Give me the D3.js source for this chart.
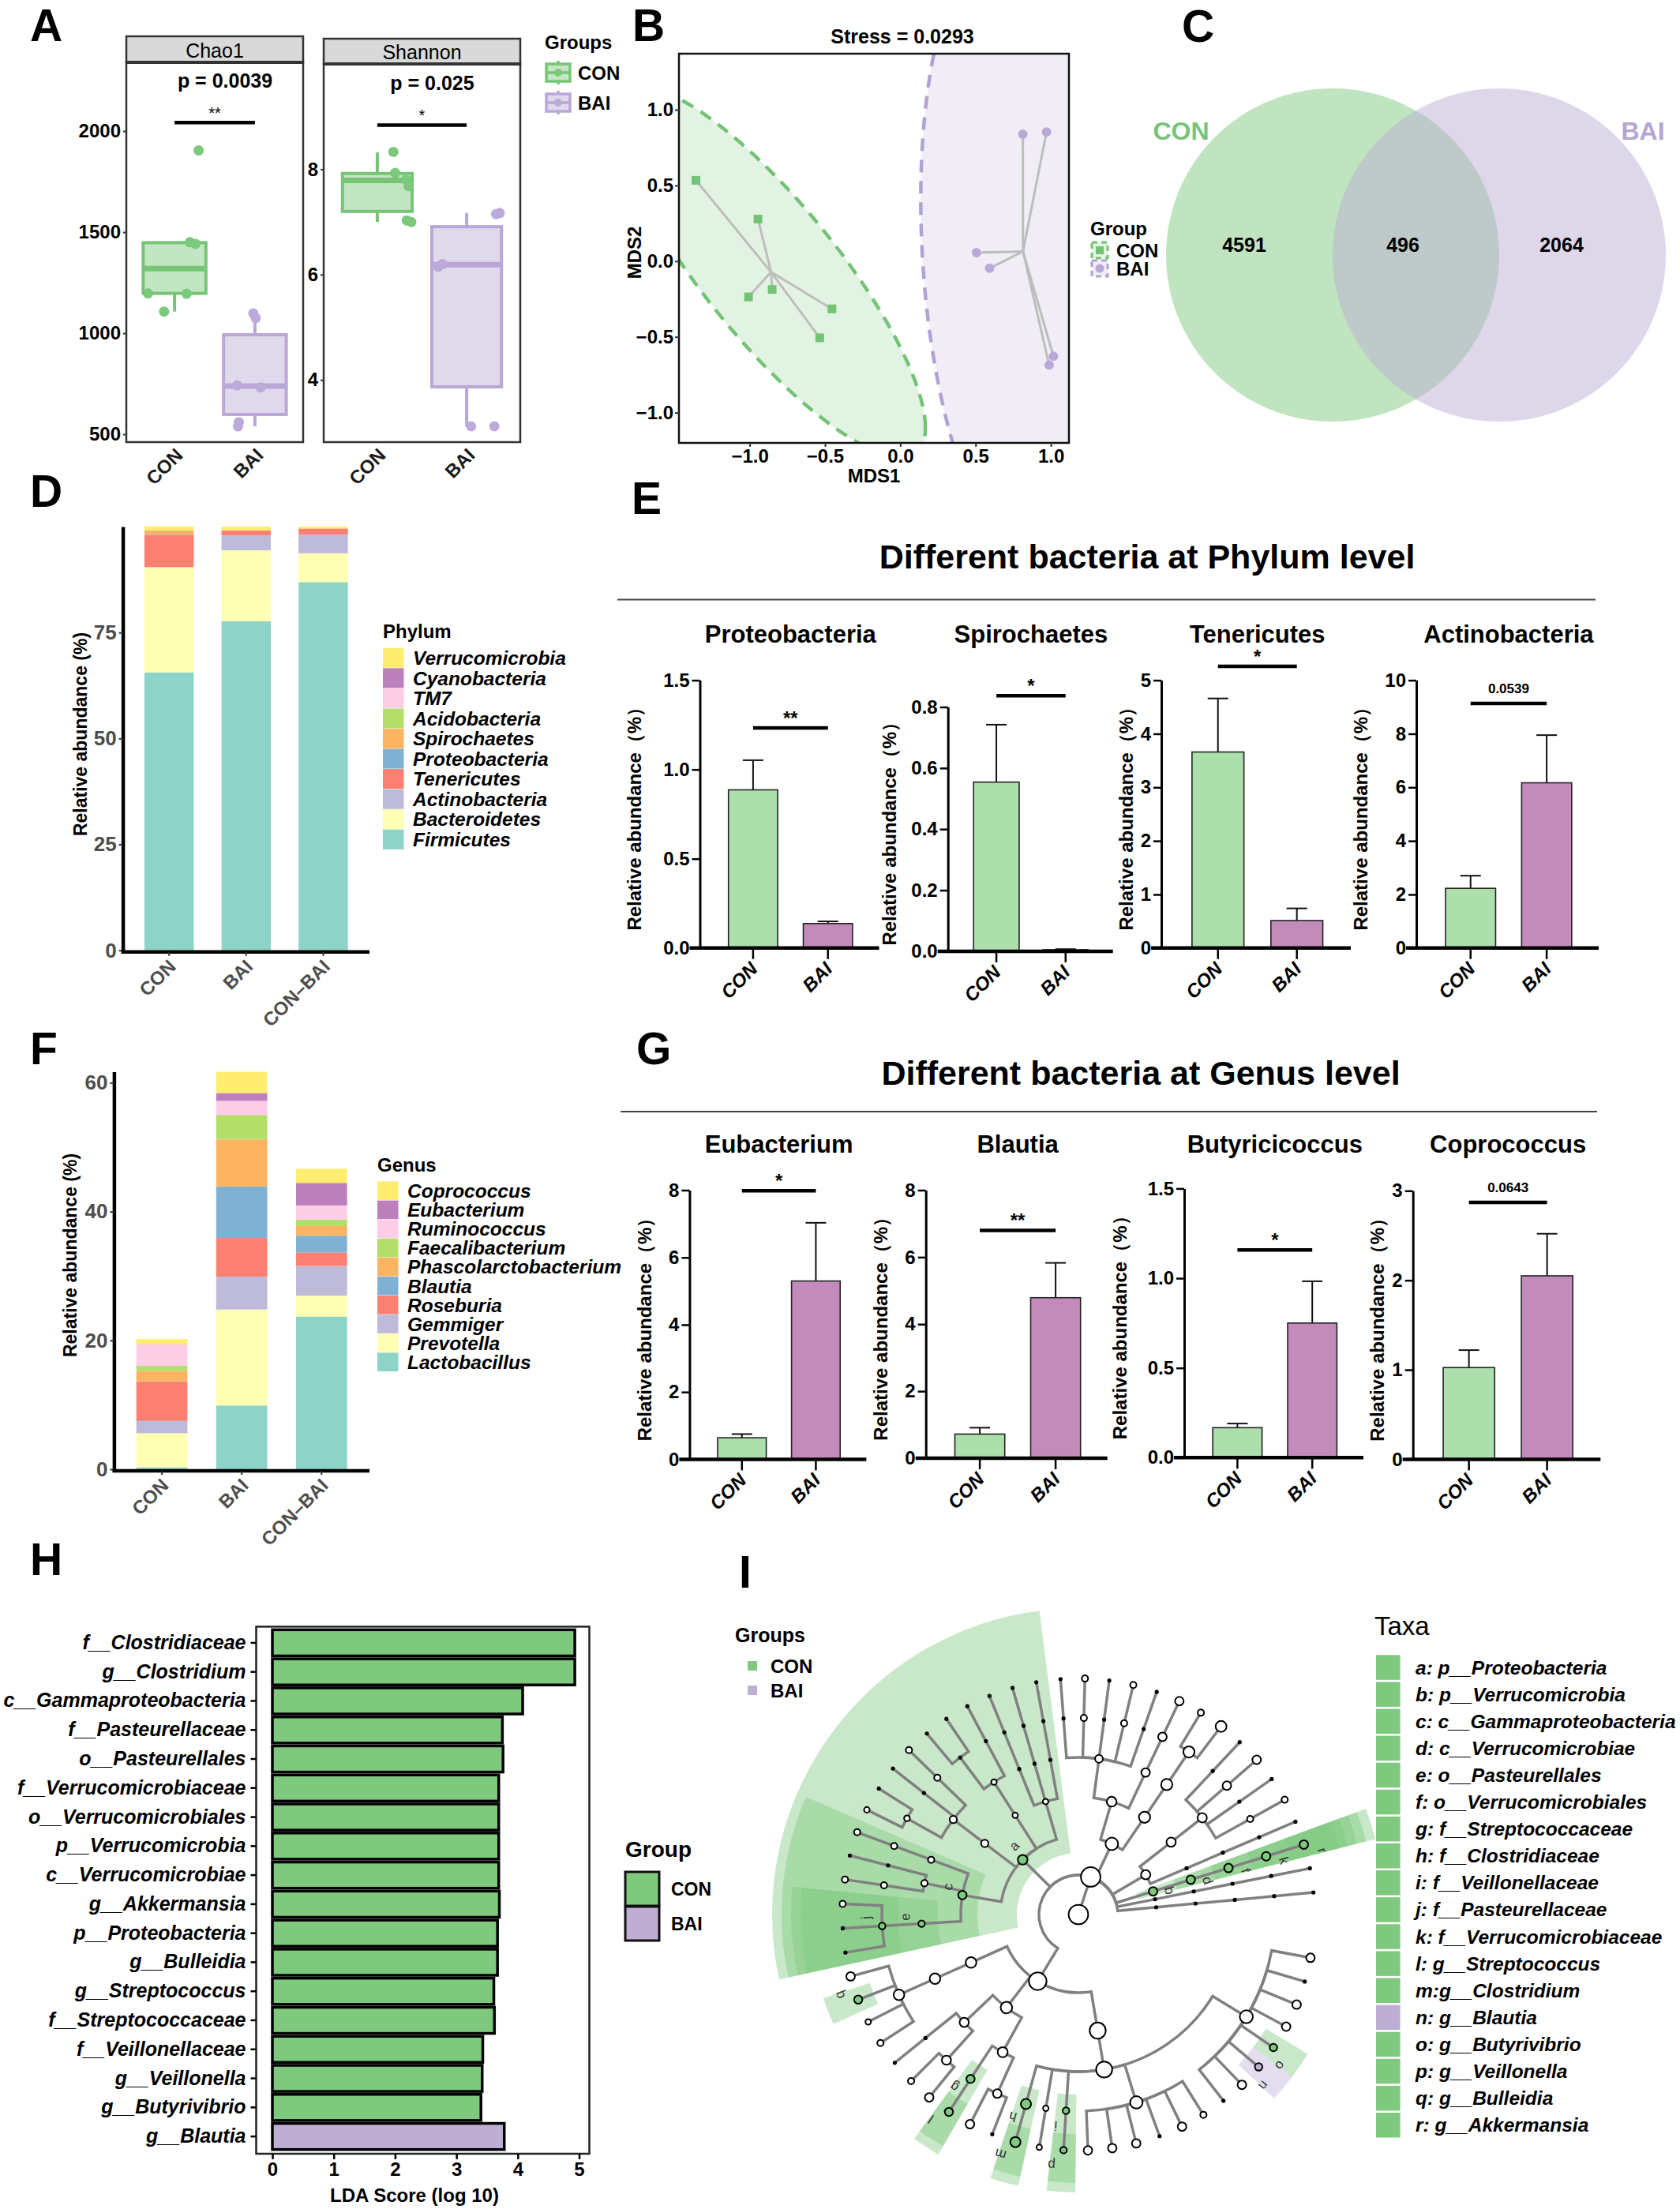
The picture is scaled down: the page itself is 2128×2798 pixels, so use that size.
<!DOCTYPE html>
<html>
<head>
<meta charset="utf-8">
<script src="https://cdn.jsdelivr.net/npm/d3@7"></script>
<style>
body { margin: 0; background: #fff; }
svg { display: block; font-family: "Liberation Sans", Arial, sans-serif; }
</style>
</head>
<body>
<svg id="fig" width="2128" height="2798"></svg>
<script>
// ---------------- data ----------------
const groups = ['CON', 'BAI']

// A: alpha diversity (points, jitter as fraction of step, box = [lo, q1, median, q3, hi])
const chao1CON = [1904, 1450, 1442, 1197, 1195, 1107]
const chao1BAI = [1098, 1075, 742, 732, 560, 539]
const chao1CONJit = [0.30, 0.19, 0.26, -0.33, 0.15, -0.13]
const chao1BAIJit = [-0.02, 0.01, -0.22, 0.07, -0.20, -0.21]
const chao1BoxCON = [1107, 1197, 1319, 1448, 1450]
const chao1BoxBAI = [539, 598, 738, 992, 1097]
const chao1Ticks = [500, 1000, 1500, 2000]
const shannonCON = [8.33, 7.93, 7.80, 7.68, 7.03, 7.00]
const shannonBAI = [7.15, 7.17, 6.20, 6.15, 3.12, 3.12]
const shannonCONJit = [0.18, 0.20, 0.32, 0.35, 0.33, 0.38]
const shannonBAIJit = [0.33, 0.37, -0.27, -0.32, 0.05, 0.31]
const shannonBoxCON = [7.00, 7.20, 7.79, 7.92, 8.32]
const shannonBoxBAI = [3.12, 3.87, 6.19, 6.91, 7.17]
const shannonTicks = [4, 6, 8]

// B: NMDS
const nmdsCON = [[-1.357, 0.534], [-0.945, 0.278], [-1.008, -0.236], [-0.851, -0.187], [-0.454, -0.315], [-0.535, -0.506]]
const nmdsBAI = [[0.814, 0.838], [0.971, 0.853], [0.506, 0.056], [0.593, -0.047], [1.017, -0.628], [0.988, -0.685]]
const nmdsTicks = [-1.0, -0.5, 0.0, 0.5, 1.0]

// C: Venn
const vennCounts = [4591, 496, 2064]

// D: phylum composition (%)
const stackGroups = ['CON', 'BAI', 'CON–BAI']
const phyla = ['Firmicutes', 'Bacteroidetes', 'Actinobacteria', 'Tenericutes', 'Proteobacteria', 'Spirochaetes', 'Acidobacteria', 'TM7', 'Cyanobacteria', 'Verrucomicrobia']
const phylumCONpct = [65.6, 24.8, 0.05, 7.5, 0.15, 1.0, 0.02, 0.02, 0.02, 0.9]
const phylumBAIpct = [77.7, 16.7, 3.5, 1.15, 0.02, 0.02, 0.0, 0.0, 0.0, 0.9]
const phylumMixPct = [86.9, 6.8, 4.4, 1.45, 0.0, 0.0, 0.0, 0.0, 0.0, 0.45]

// E: phylum level differences
const diffPhyla = ['Proteobacteria', 'Spirochaetes', 'Tenericutes', 'Actinobacteria']
const diffPhylaCON = [0.886, 0.554, 3.66, 2.23]
const diffPhylaCONerr = [1.052, 0.742, 4.66, 2.70]
const diffPhylaBAI = [0.137, 0.005, 0.513, 6.17]
const diffPhylaBAIerr = [0.149, 0.007, 0.74, 7.95]
const diffPhylaMax = [1.5, 0.8, 5, 10]
const diffPhylaStep = [0.5, 0.2, 1, 2]
const diffPhylaSig = ['**', '*', '*', '0.0539']
const diffPhylaSigY = [1.233, 0.837, 5.26, 9.13]

// F: genus composition (%)
const genera = ['Lactobacillus', 'Prevotella', 'Gemmiger', 'Roseburia', 'Blautia', 'Phascolarctobacterium', 'Faecalibacterium', 'Ruminococcus', 'Eubacterium', 'Coprococcus']
const genusCONpct = [0.3, 5.3, 1.9, 6.1, 0.05, 1.6, 0.8, 3.3, 0.05, 0.8]
const genusBAIpct = [9.9, 14.9, 5.1, 6.0, 8.0, 7.3, 3.8, 2.2, 1.2, 3.3]
const genusMixPct = [23.7, 3.25, 4.6, 2.1, 2.6, 1.5, 1.0, 2.2, 3.5, 2.2]

// G: genus level differences
const diffGenera = ['Eubacterium', 'Blautia', 'Butyricicoccus', 'Coprococcus']
const diffGeneraCON = [0.64, 0.72, 0.167, 1.025]
const diffGeneraCONerr = [0.75, 0.91, 0.19, 1.22]
const diffGeneraBAI = [5.30, 4.79, 0.75, 2.05]
const diffGeneraBAIerr = [7.03, 5.83, 0.983, 2.52]
const diffGeneraMax = [8, 8, 1.5, 3]
const diffGeneraStep = [2, 2, 0.5, 1]
const diffGeneraSig = ['*', '**', '*', '0.0643']
const diffGeneraSigY = [7.98, 6.80, 1.157, 2.87]

// H: LEfSe LDA
const ldaTaxa = ['f__Clostridiaceae', 'g__Clostridium', 'c__Gammaproteobacteria', 'f__Pasteurellaceae', 'o__Pasteurellales', 'f__Verrucomicrobiaceae', 'o__Verrucomicrobiales', 'p__Verrucomicrobia', 'c__Verrucomicrobiae', 'g__Akkermansia', 'p__Proteobacteria', 'g__Bulleidia', 'g__Streptococcus', 'f__Streptococcaceae', 'f__Veillonellaceae', 'g__Veillonella', 'g__Butyrivibrio', 'g__Blautia']
const ldaScores = [4.93, 4.93, 4.08, 3.75, 3.76, 3.69, 3.69, 3.69, 3.69, 3.70, 3.67, 3.67, 3.61, 3.62, 3.43, 3.42, 3.40, 3.78]
const ldaGroup = ['CON', 'CON', 'CON', 'CON', 'CON', 'CON', 'CON', 'CON', 'CON', 'CON', 'CON', 'CON', 'CON', 'CON', 'CON', 'CON', 'CON', 'BAI']

// I: cladogram leaves (clockwise), leaf relative size, enriched taxa
const cladeLeaves = [
  'Firmicutes|Clostridia|Clostridiales|Lachnospiraceae|Dorea',
  'Firmicutes|Clostridia|Clostridiales|Lachnospiraceae|Lachnospira',
  'Firmicutes|Clostridia|Clostridiales|Lachnospiraceae|Roseburia',
  'Firmicutes|Clostridia|Clostridiales|Lachnospiraceae|Coprococcus',
  'Firmicutes|Clostridia|Clostridiales|Lachnospiraceae|Butyrivibrio',
  'Firmicutes|Clostridia|Clostridiales|Lachnospiraceae|Blautia',
  'Firmicutes|Clostridia|Clostridiales|Lachnospiraceae|[Ruminococcus]',
  'Firmicutes|Clostridia|Clostridiales|Lachnospiraceae|Anaerostipes',
  'Firmicutes|Clostridia|Clostridiales|Ruminococcaceae|Anaerotruncus',
  'Firmicutes|Clostridia|Clostridiales|Ruminococcaceae|Butyricicoccus',
  'Firmicutes|Clostridia|Clostridiales|Ruminococcaceae|Anaerofilum',
  'Firmicutes|Clostridia|Clostridiales|Ruminococcaceae|Oscillospira',
  'Firmicutes|Clostridia|Clostridiales|Ruminococcaceae|Ruminococcus',
  'Firmicutes|Clostridia|Clostridiales|Ruminococcaceae|Faecalibacterium',
  'Firmicutes|Clostridia|Clostridiales|Veillonellaceae|Veillonella',
  'Firmicutes|Clostridia|Clostridiales|Peptococcaceae|rc4-4',
  'Firmicutes|Clostridia|Clostridiales|Clostridiaceae|Clostridium',
  'Firmicutes|Bacilli|Lactobacillales|Lactobacillaceae|Pediococcus',
  'Firmicutes|Bacilli|Lactobacillales|Lactobacillaceae|Lactobacillus',
  'Firmicutes|Bacilli|Lactobacillales|Streptococcaceae|Streptococcus',
  'Firmicutes|Bacilli|Bacillales|Staphylococcaceae|Staphylococcus',
  'Firmicutes|Bacilli|Bacillales|Staphylococcaceae|Jeotgalicoccus',
  'Firmicutes|Bacilli|Bacillales|Planococcaceae|Sporosarcina',
  'Firmicutes|Erysipelotrichi|Erysipelotrichales|Erysipelotrichaceae|Allobaculum',
  'Firmicutes|Erysipelotrichi|Erysipelotrichales|Erysipelotrichaceae|Coprobacillus',
  'Firmicutes|Erysipelotrichi|Erysipelotrichales|Erysipelotrichaceae|Bulleidia',
  'Firmicutes|Erysipelotrichi|Erysipelotrichales|Erysipelotrichaceae|Turicibacter',
  'Proteobacteria|Gammaproteobacteria|Pasteurellales|Pasteurellaceae|Haemophilus',
  'Proteobacteria|Gammaproteobacteria|Pasteurellales|Pasteurellaceae|Actinobacillus',
  'Proteobacteria|Gammaproteobacteria|Pasteurellales|Pasteurellaceae|Aggregatibacter',
  'Proteobacteria|Gammaproteobacteria|Pseudomonadales|Moraxellaceae|Acinetobacter',
  'Proteobacteria|Gammaproteobacteria|Pseudomonadales|Pseudomonadaceae|Pseudomonas',
  'Proteobacteria|Gammaproteobacteria|Enterobacteriales|Enterobacteriaceae|Proteus',
  'Proteobacteria|Betaproteobacteria|Burkholderiales|Alcaligenaceae|Sutterella',
  'Proteobacteria|Betaproteobacteria|Burkholderiales|Alcaligenaceae|Parasutterella',
  'Proteobacteria|Betaproteobacteria|Burkholderiales|Comamonadaceae|Comamonas',
  'Proteobacteria|Betaproteobacteria|Burkholderiales|Oxalobacteraceae|Oxalobacter',
  'Proteobacteria|Deltaproteobacteria|Desulfovibrionales|Desulfovibrionaceae|Desulfovibrio',
  'Proteobacteria|Deltaproteobacteria|Desulfovibrionales|Desulfovibrionaceae|Bilophila',
  'Proteobacteria|Deltaproteobacteria|Desulfovibrionales|Desulfohalobiaceae|Desulfonatronovibrio',
  'Proteobacteria|Alphaproteobacteria|Rhizobiales|Bradyrhizobiaceae|Bradyrhizobium',
  'Proteobacteria|Alphaproteobacteria|Sphingomonadales|Sphingomonadaceae|Sphingomonas',
  'Proteobacteria|Alphaproteobacteria|Rhodospirillales|Rhodospirillaceae|Azospirillum',
  'Bacteroidetes|Bacteroidia|Bacteroidales|Bacteroidaceae|Bacteroides',
  'Bacteroidetes|Bacteroidia|Bacteroidales|Porphyromonadaceae|Parabacteroides',
  'Bacteroidetes|Bacteroidia|Bacteroidales|Rikenellaceae|Rikenella',
  'Bacteroidetes|Bacteroidia|Bacteroidales|Odoribacteraceae|Odoribacter',
  'Bacteroidetes|Bacteroidia|Bacteroidales|Paraprevotellaceae|Paraprevotella',
  'Bacteroidetes|Bacteroidia|Flavobacteriales|Weeksellaceae|Wautersiella',
  'Bacteroidetes|Sphingobacteriia|Sphingobacteriales|Sphingobacteriaceae|Sphingobacterium',
  'Bacteroidetes|Sphingobacteriia|Sphingobacteriales|Sphingobacteriaceae|Pedobacter',
  'Actinobacteria|Actinobacteria|Actinomycetales|Corynebacteriaceae|Corynebacterium',
  'Actinobacteria|Actinobacteria|Actinomycetales|Bifidobacteriaceae|Bifidobacterium',
  'Actinobacteria|Actinobacteria|Actinomycetales|Micrococcaceae|Rothia',
  'Actinobacteria|Actinobacteria|Actinomycetales|Propionibacteriaceae|Propionibacterium',
  'Actinobacteria|Coriobacteriia|Coriobacteriales|Coriobacteriaceae|Adlercreutzia',
  'Verrucomicrobia|Verrucomicrobiae|Verrucomicrobiales|Verrucomicrobiaceae|Akkermansia',
  'Cyanobacteria|4C0d-2|YS2|YS2_f|YS2_g',
  'TM7|TM7-3|CW040|F16|F16_g'
]
const cladeLeafSize = [3.5, 0.1, 3.5, 3.5, 2, 2, 3.5, 0.1, 1, 3.5, 0.1, 3.5, 3.5, 3.5, 1.2, 0.5, 7,
  0.1, 3.5, 3, 3.5, 1, 0.1, 1, 0.6, 3, 3.5,
  0.1, 0.1, 1, 1, 0.1, 1, 0.6, 0.1, 0.1, 1, 0.12, 0.12, 0.1, 0.1, 0.1, 0.1,
  0.1, 1, 0.1, 1, 0.1, 3.5, 1, 9,
  0.1, 3.5, 0.1, 1, 0.1,
  3.5, 0.1, 0.1]
const taxaLabels = ['a: p__Proteobacteria', 'b: p__Verrucomicrobia', 'c: c__Gammaproteobacteria', 'd: c__Verrucomicrobiae', 'e: o__Pasteurellales', 'f: o__Verrucomicrobiales', 'g: f__Streptococcaceae', 'h: f__Clostridiaceae', 'i: f__Veillonellaceae', 'j: f__Pasteurellaceae', 'k: f__Verrucomicrobiaceae', 'l: g__Streptococcus', 'm:g__Clostridium', 'n: g__Blautia', 'o: g__Butyrivibrio', 'p: g__Veillonella', 'q: g__Bulleidia', 'r: g__Akkermansia']
const taxaGroup = ['CON', 'CON', 'CON', 'CON', 'CON', 'CON', 'CON', 'CON', 'CON', 'CON', 'CON', 'CON', 'CON', 'BAI', 'CON', 'CON', 'CON', 'CON']

// ---------------- styles ----------------
const FONT = '"Liberation Sans", Arial, sans-serif'
const setColors = ['#8dd3c7', '#ffffb3', '#bebada', '#fb8072', '#80b1d3', '#fdb462', '#b3de69', '#fccde5', '#bc80bd', '#ffed6f']
const grpFill = { CON: '#7fc97f', BAI: '#beaed4' }
const boxStyle = {
  CON: { fill: '#c3e6c2', line: '#77c477', point: '#7bc97c' },
  BAI: { fill: '#e0d9ec', line: '#b8a7d7', point: '#bbaada' }
}
const barFill = ['#acdfac', '#c38bb9']

const svg = d3.select('#fig')

function txt(g, x, y, s, o = {}) {
  const t = g.append('text').attr('x', x).attr('y', y).text(s)
    .attr('font-family', FONT)
    .attr('font-size', o.size || 24)
    .attr('font-weight', o.weight || 'bold')
    .attr('text-anchor', o.anchor || 'start')
    .attr('fill', o.fill || '#000')
  if (o.italic) t.attr('font-style', 'italic')
  if (o.baseline) t.attr('dominant-baseline', o.baseline)
  if (o.rotate !== undefined) t.attr('transform', `rotate(${o.rotate},${x},${y})`)
  return t
}

function styleAxis(ax, o) {
  ax.selectAll('text')
    .attr('font-family', FONT).attr('font-size', o.size).attr('font-weight', 'bold')
    .attr('fill', o.fill || '#000')
  if (o.italic) ax.selectAll('text').attr('font-style', 'italic')
  ax.selectAll('.tick line').attr('stroke', o.stroke || '#000').attr('stroke-width', o.tw || 2)
  ax.select('.domain').attr('stroke', o.stroke || '#000').attr('stroke-width', o.dw || 2)
}

// panel letters
const letters = [['A', 38, 52], ['B', 801, 52], ['C', 1497, 53], ['D', 38, 642], ['E', 800, 651],
  ['F', 38, 1348], ['G', 806, 1348], ['H', 38, 1995], ['I', 936, 2011]]
letters.forEach(([l, x, y]) => txt(svg, x, y, l, { size: 57 }))

// ---------------- A ----------------
function alphaPanel(o) {
  const g = svg.append('g')
  const x = d3.scalePoint().domain(groups).range([o.x0, o.x1]).padding(0.6)
  const y = d3.scaleLinear().domain(o.domain).range([o.y1, o.y0])
  const step = x.step(), bw = step * 0.78
  g.append('rect').attr('x', o.x0).attr('y', o.sy).attr('width', o.x1 - o.x0).attr('height', o.y0 - o.sy)
    .attr('fill', '#d9d9d9').attr('stroke', '#333').attr('stroke-width', 2.5)
  txt(g, (o.x0 + o.x1) / 2, (o.sy + o.y0) / 2 + 1, o.name, { size: 25, weight: 'normal', anchor: 'middle', baseline: 'central' })
  g.append('rect').attr('x', o.x0).attr('y', o.y0).attr('width', o.x1 - o.x0).attr('height', o.y1 - o.y0)
    .attr('fill', '#fff').attr('stroke', '#333').attr('stroke-width', 2.5)
  g.append('line').attr('x1', o.x0).attr('x2', o.x1).attr('y1', o.y0).attr('y2', o.y0).attr('stroke', '#333').attr('stroke-width', 4)

  groups.forEach((gr, i) => {
    const b = o.box[i], cx = x(gr), st = boxStyle[gr]
    g.append('line').attr('x1', cx).attr('x2', cx).attr('y1', y(b[0])).attr('y2', y(b[4]))
      .attr('stroke', st.line).attr('stroke-width', 4)
    g.append('rect').attr('x', cx - bw / 2).attr('y', y(b[3])).attr('width', bw).attr('height', y(b[1]) - y(b[3]))
      .attr('fill', st.fill).attr('stroke', st.line).attr('stroke-width', 4)
    g.append('line').attr('x1', cx - bw / 2).attr('x2', cx + bw / 2).attr('y1', y(b[2])).attr('y2', y(b[2]))
      .attr('stroke', st.line).attr('stroke-width', 7)
    g.selectAll(null).data(o.pts[i]).join('circle')
      .attr('cx', (d, j) => cx + o.jit[i][j] * step).attr('cy', d => y(d)).attr('r', 6.5)
      .attr('fill', st.point)
  })

  const ax = g.append('g').attr('transform', `translate(${o.x0},0)`)
    .call(d3.axisLeft(y).tickValues(o.ticks).tickFormat(d3.format('d')).tickSize(4).tickPadding(3).tickSizeOuter(0))
  ax.select('.domain').remove()
  styleAxis(ax, { size: 24, stroke: '#333', tw: 2 })

  const ly = y(o.sigY)
  g.append('line').attr('x1', x('CON')).attr('x2', x('BAI')).attr('y1', ly).attr('y2', ly).attr('stroke', '#000').attr('stroke-width', 4.5)
  txt(g, (x('CON') + x('BAI')) / 2, ly - 5, o.star, { size: 20, weight: 'normal', anchor: 'middle' })
  txt(g, (o.x0 + o.x1) / 2 + 13, ly - 44, o.p, { size: 25, anchor: 'middle' })
  groups.forEach(gr => txt(g, x(gr) + 12, o.y1 + 18, gr, { size: 24, anchor: 'end', rotate: -45, fill: '#1a1a1a' }))
}
alphaPanel({ name: 'Chao1', x0: 160, x1: 384, sy: 46, y0: 79, y1: 560, domain: [461, 2340], ticks: chao1Ticks,
  pts: [chao1CON, chao1BAI], jit: [chao1CONJit, chao1BAIJit], box: [chao1BoxCON, chao1BoxBAI],
  sigY: 2042, star: '**', p: 'p = 0.0039' })
alphaPanel({ name: 'Shannon', x0: 410, x1: 659, sy: 49, y0: 81, y1: 560, domain: [2.82, 10.0], ticks: shannonTicks,
  pts: [shannonCON, shannonBAI], jit: [shannonCONJit, shannonBAIJit], box: [shannonBoxCON, shannonBoxBAI],
  sigY: 8.84, star: '*', p: 'p = 0.025' })

// A legend
{
  const g = svg.append('g')
  txt(g, 690, 62, 'Groups', { size: 24 })
  groups.forEach((gr, i) => {
    const cy = 92 + i * 38, st = boxStyle[gr]
    g.append('line').attr('x1', 707).attr('x2', 707).attr('y1', cy - 15).attr('y2', cy + 15).attr('stroke', st.line).attr('stroke-width', 3.5)
    g.append('rect').attr('x', 692).attr('y', cy - 11).attr('width', 30).attr('height', 22)
      .attr('fill', st.fill).attr('stroke', st.line).attr('stroke-width', 3.5)
    g.append('line').attr('x1', 692).attr('x2', 722).attr('y1', cy).attr('y2', cy).attr('stroke', st.line).attr('stroke-width', 3.5)
    g.append('circle').attr('cx', 707).attr('cy', cy).attr('r', 5).attr('fill', st.point)
    txt(g, 732, cy, gr, { size: 24, baseline: 'central' })
  })
}

// ---------------- B ----------------
{
  const g = svg.append('g')
  const x = d3.scaleLinear().domain([-1.47, 1.12]).range([860, 1354])
  const y = d3.scaleLinear().domain([-1.20, 1.37]).range([561, 68])
  g.append('clipPath').attr('id', 'clipB').append('rect').attr('x', 860).attr('y', 68).attr('width', 494).attr('height', 493)
  const inner = g.append('g').attr('clip-path', 'url(#clipB)')
  const level = 3.1
  function ellipse(pts) {
    const n = pts.length, mx = d3.mean(pts, d => d[0]), my = d3.mean(pts, d => d[1])
    let sxx = 0, syy = 0, sxy = 0
    pts.forEach(([a, b]) => { sxx += (a - mx) ** 2; syy += (b - my) ** 2; sxy += (a - mx) * (b - my) })
    sxx /= n - 1; syy /= n - 1; sxy /= n - 1
    const l11 = Math.sqrt(sxx), l21 = sxy / l11, l22 = Math.sqrt(syy - l21 * l21)
    return d3.range(0, 360, 2).map(t => {
      const u = Math.cos(t * Math.PI / 180) * level, v = Math.sin(t * Math.PI / 180) * level
      return [mx + l11 * u, my + l21 * u + l22 * v]
    })
  }
  const line = d3.line().x(d => x(d[0])).y(d => y(d[1])).curve(d3.curveLinearClosed)
  const sets = [[nmdsCON, '#7fc97f', '#74c376'], [nmdsBAI, '#beaed4', '#b2a2d3']]
  sets.forEach(([pts, fill, stroke]) => {
    inner.append('path').attr('d', line(ellipse(pts))).attr('fill', fill).attr('fill-opacity', 0.22)
      .attr('stroke', stroke).attr('stroke-width', 4.5).attr('stroke-dasharray', '16 11')
  })
  sets.forEach(([pts]) => {
    const mx = d3.mean(pts, d => d[0]), my = d3.mean(pts, d => d[1])
    inner.selectAll(null).data(pts).join('line')
      .attr('x1', x(mx)).attr('y1', y(my)).attr('x2', d => x(d[0])).attr('y2', d => y(d[1]))
      .attr('stroke', '#bdbdbd').attr('stroke-width', 3)
  })
  inner.selectAll(null).data(nmdsCON).join('rect')
    .attr('x', d => x(d[0]) - 5.5).attr('y', d => y(d[1]) - 5.5).attr('width', 11).attr('height', 11).attr('fill', '#72c374')
  inner.selectAll(null).data(nmdsBAI).join('circle')
    .attr('cx', d => x(d[0])).attr('cy', d => y(d[1])).attr('r', 6).attr('fill', '#b9a9d9')
  g.append('rect').attr('x', 860).attr('y', 68).attr('width', 494).attr('height', 493)
    .attr('fill', 'none').attr('stroke', '#111').attr('stroke-width', 2.5)
  const fmt = d3.format('.1f')
  const axb = g.append('g').attr('transform', 'translate(0,561)').call(d3.axisBottom(x).tickValues(nmdsTicks).tickFormat(fmt).tickSize(5).tickPadding(3))
  axb.select('.domain').remove()
  styleAxis(axb, { size: 24, stroke: '#333' })
  const axl = g.append('g').attr('transform', 'translate(860,0)').call(d3.axisLeft(y).tickValues(nmdsTicks).tickFormat(fmt).tickSize(5).tickPadding(2))
  axl.select('.domain').remove()
  styleAxis(axl, { size: 24, stroke: '#333' })
  txt(g, 1107, 611, 'MDS1', { size: 24, anchor: 'middle' })
  txt(g, 803, 320, 'MDS2', { size: 24, anchor: 'middle', baseline: 'central', rotate: -90 })
  txt(g, 1143, 55, 'Stress = 0.0293', { size: 25, anchor: 'middle' })
  // legend
  txt(g, 1381, 298, 'Group', { size: 24 })
  groups.forEach((gr, i) => {
    const cy = 317 + i * 23
    g.append('rect').attr('x', 1383).attr('y', cy - 10).attr('width', 20).attr('height', 20)
      .attr('fill', grpFill[gr]).attr('fill-opacity', 0.22).attr('stroke', i ? '#b2a2d3' : '#74c376')
      .attr('stroke-width', 3).attr('stroke-dasharray', '7 5')
    if (i === 0) g.append('rect').attr('x', 1388).attr('y', cy - 5).attr('width', 10).attr('height', 10).attr('fill', '#72c374')
    else g.append('circle').attr('cx', 1393).attr('cy', cy).attr('r', 5.5).attr('fill', '#b9a9d9')
    txt(g, 1414, cy, gr, { size: 24, baseline: 'central' })
  })
}

// ---------------- C ----------------
{
  const g = svg.append('g')
  const r = 211
  g.append('circle').attr('cx', 1688).attr('cy', 323).attr('r', r).attr('fill', grpFill.CON).attr('fill-opacity', 0.5)
  g.append('circle').attr('cx', 1899).attr('cy', 323).attr('r', r).attr('fill', grpFill.BAI).attr('fill-opacity', 0.5)
  txt(g, 1496, 166, 'CON', { size: 32, anchor: 'middle', baseline: 'central', fill: '#77c479' })
  txt(g, 2081, 166, 'BAI', { size: 32, anchor: 'middle', baseline: 'central', fill: '#b5a5d4' })
  const cxs = [1576, 1777, 1978]
  vennCounts.forEach((c, i) => txt(g, cxs[i], 310, c, { size: 25, anchor: 'middle', baseline: 'central' }))
}

// ---------------- D / F stacked bars ----------------
function stackPanel(o) {
  const g = svg.append('g')
  const rows = stackGroups.map((gr, i) => {
    const r = { group: gr }
    o.keys.forEach((k, j) => { r[k] = o.vals[i][j] })
    return r
  })
  const series = d3.stack().keys(o.keys)(rows)
  const x = d3.scaleBand().domain(stackGroups).range([o.axX, o.xEnd]).paddingInner(0.36).paddingOuter(0.28)
  const y = d3.scaleLinear().domain([0, o.max]).range([o.zeroY, o.topY])
  series.forEach((s, j) => {
    g.selectAll(null).data(s).join('rect')
      .attr('x', d => x(d.data.group)).attr('width', x.bandwidth())
      .attr('y', d => y(d[1])).attr('height', d => Math.max(0, y(d[0]) - y(d[1])))
      .attr('fill', setColors[j])
  })
  const ay = g.append('g').attr('transform', `translate(${o.axX},0)`)
    .call(d3.axisLeft(y).tickValues(o.ticks).tickSize(5).tickPadding(3).tickSizeOuter(0))
  styleAxis(ay, { size: 26, fill: '#4d4d4d', stroke: '#333', dw: 4.5 })
  ay.select('.domain').attr('stroke', '#000')
  const ax = g.append('g').attr('transform', `translate(0,${o.zeroY + 2})`)
    .call(d3.axisBottom(x).tickSize(5).tickSizeOuter(0).tickFormat(''))
  styleAxis(ax, { size: 24, stroke: '#333', dw: 4.5 })
  ax.select('.domain').attr('stroke', '#000').attr('d', `M${o.axX - 2},0H${o.xEnd}`)
  stackGroups.forEach(gr => txt(g, x(gr) + x.bandwidth() / 2 + 10, o.zeroY + 22, gr, { size: 24, anchor: 'end', rotate: -45, fill: '#4d4d4d' }))
  txt(g, o.titleX, o.titleY, 'Relative abundance (%)', { size: 23, anchor: 'middle', baseline: 'central', rotate: -90 })
  // legend
  txt(g, o.legX, o.legTitleY, o.legTitle, { size: 24 })
  const n = o.keys.length
  o.keys.slice().reverse().forEach((k, i) => {
    const yy = o.legTop + i * o.legStep
    g.append('rect').attr('x', o.legX).attr('y', yy).attr('width', 26.5).attr('height', o.legStep - 0.5)
      .attr('fill', setColors[n - 1 - i])
    txt(g, o.legX + 38, yy + o.legStep / 2, k, { size: 24.5, italic: true, baseline: 'central' })
  })
}
stackPanel({ keys: phyla, vals: [phylumCONpct, phylumBAIpct, phylumMixPct], axX: 155.6, xEnd: 468,
  zeroY: 1203.7, topY: 667, max: 100, ticks: [0, 25, 50, 75], titleX: 102, titleY: 930,
  legX: 485, legTitle: 'Phylum', legTitleY: 808, legTop: 820.8, legStep: 25.55 })
stackPanel({ keys: genera, vals: [genusCONpct, genusBAIpct, genusMixPct], axX: 144.4, xEnd: 468,
  zeroY: 1861, topY: 1357.6, max: 61.7, ticks: [0, 20, 40, 60], titleX: 89, titleY: 1590,
  legX: 478, legTitle: 'Genus', legTitleY: 1484, legTop: 1496.5, legStep: 24.1 })

// ---------------- E / G bar charts ----------------
function diffPanel(names, con, conErr, bai, baiErr, maxes, steps, sigs, sigY, lay) {
  const g = svg.append('g')
  txt(g, lay.titleX, lay.titleY, lay.title, { size: 43, anchor: 'middle' })
  g.append('line').attr('x1', lay.ruleX0).attr('x2', lay.ruleX1).attr('y1', lay.ruleY).attr('y2', lay.ruleY)
    .attr('stroke', '#444').attr('stroke-width', 2)
  names.forEach((name, i) => {
    const axX = lay.axisX[i], x0 = axX - 13, L = lay.len[i], zeroY = lay.zeroY[i]
    const y = d3.scaleLinear().domain([0, maxes[i]]).range([zeroY, lay.topY[i]])
    const x = d3.scalePoint().domain(groups).range([x0 + 0.335 * L, x0 + 0.73 * L])
    const bw = 0.26 * L
    const vals = [con[i], bai[i]], errs = [conErr[i], baiErr[i]]
    groups.forEach((gr, j) => {
      const cx = x(gr)
      g.append('line').attr('x1', cx).attr('x2', cx).attr('y1', y(vals[j])).attr('y2', y(errs[j])).attr('stroke', '#111').attr('stroke-width', 2)
      g.append('line').attr('x1', cx - 13).attr('x2', cx + 13).attr('y1', y(errs[j])).attr('y2', y(errs[j])).attr('stroke', '#111').attr('stroke-width', 2)
      g.append('rect').attr('x', cx - bw / 2).attr('y', y(vals[j])).attr('width', bw).attr('height', zeroY - y(vals[j]))
        .attr('fill', barFill[j]).attr('stroke', '#222').attr('stroke-width', 1.6)
      g.append('line').attr('x1', cx).attr('x2', cx).attr('y1', zeroY).attr('y2', zeroY + 14).attr('stroke', '#000').attr('stroke-width', 2.5)
      txt(g, cx + 7, zeroY + 28, gr, { size: 24, italic: true, anchor: 'end', rotate: -45 })
    })
    g.append('line').attr('x1', x0).attr('x2', x0 + L).attr('y1', zeroY).attr('y2', zeroY).attr('stroke', '#000').attr('stroke-width', 4.5)
    const fmt = steps[i] < 1 ? d3.format('.1f') : d3.format('d')
    const ay = g.append('g').attr('transform', `translate(${axX},0)`)
      .call(d3.axisLeft(y).tickValues(d3.range(0, maxes[i] + steps[i] / 2, steps[i])).tickFormat(fmt).tickSize(10).tickPadding(3).tickSizeOuter(0))
    styleAxis(ay, { size: 24, tw: 2.5, dw: 3 })
    const mid = (x('CON') + x('BAI')) / 2
    txt(g, mid, lay.subY, name, { size: 31, anchor: 'middle' })
    const ly = y(sigY[i])
    g.append('line').attr('x1', x('CON')).attr('x2', x('BAI')).attr('y1', ly).attr('y2', ly).attr('stroke', '#000').attr('stroke-width', 4.5)
    if (sigs[i].includes('*')) txt(g, mid, ly - 4, sigs[i], { size: 24, anchor: 'middle' })
    else txt(g, mid, ly - 13, sigs[i], { size: 17, anchor: 'middle' })
    txt(g, axX - lay.labelDx[i], (zeroY + lay.topY[i]) / 2, 'Relative abundance（%）', { size: 24, anchor: 'middle', baseline: 'central', rotate: -90 })
  })
}
diffPanel(diffPhyla, diffPhylaCON, diffPhylaCONerr, diffPhylaBAI, diffPhylaBAIerr, diffPhylaMax, diffPhylaStep, diffPhylaSig, diffPhylaSigY, {
  title: 'Different bacteria at Phylum level', titleX: 1453, titleY: 720, ruleY: 759.6, ruleX0: 782, ruleX1: 2021, subY: 814,
  axisX: [886.5, 1200.7, 1471, 1794], topY: [861.6, 895.5, 861.6, 861.6], zeroY: [1200.8, 1204.9, 1200.8, 1200.8],
  len: [240, 222, 253, 244], labelDx: [83, 74, 44, 70] })
diffPanel(diffGenera, diffGeneraCON, diffGeneraCONerr, diffGeneraBAI, diffGeneraBAIerr, diffGeneraMax, diffGeneraStep, diffGeneraSig, diffGeneraSigY, {
  title: 'Different bacteria at Genus level', titleX: 1445, titleY: 1374, ruleY: 1408, ruleX0: 786, ruleX1: 2023, subY: 1460,
  axisX: [873.4, 1172.7, 1500, 1789.7], topY: [1507.5, 1507.5, 1505.4, 1508.3], zeroY: [1848.4, 1847, 1846.3, 1848.4],
  len: [237, 243, 240, 250.6], labelDx: [57, 57, 81, 45] })

// ---------------- H ----------------
{
  const g = svg.append('g')
  const x = d3.scaleLinear().domain([-0.264, 5.167]).range([324.5, 746.5])
  const y = d3.scaleBand().domain(ldaTaxa).range([2062.5, 2724.5]).paddingInner(0.1).paddingOuter(0.05)
  g.selectAll(null).data(ldaTaxa).join('rect')
    .attr('x', x(0)).attr('y', d => y(d)).attr('height', y.bandwidth())
    .attr('width', (d, i) => x(ldaScores[i]) - x(0))
    .attr('fill', (d, i) => grpFill[ldaGroup[i]]).attr('stroke', '#000').attr('stroke-width', 3.5)
  g.append('rect').attr('x', 324.5).attr('y', 2060.4).attr('width', 422).attr('height', 667.6)
    .attr('fill', 'none').attr('stroke', '#222').attr('stroke-width', 2.5)
  const ab = g.append('g').attr('transform', 'translate(0,2728)')
    .call(d3.axisBottom(x).tickValues(d3.range(0, 6)).tickFormat(d3.format('d')).tickSize(7).tickPadding(4))
  ab.select('.domain').remove()
  styleAxis(ab, { size: 24, tw: 2.5 })
  const al = g.append('g').attr('transform', 'translate(324.5,0)').call(d3.axisLeft(y).tickSize(7).tickPadding(6))
  al.select('.domain').remove()
  styleAxis(al, { size: 25, italic: true, tw: 2.5 })
  txt(g, 525, 2789, 'LDA Score (log 10)', { size: 24, anchor: 'middle' })
  txt(g, 792, 2352, 'Group', { size: 28 })
  groups.forEach((gr, i) => {
    g.append('rect').attr('x', 792).attr('y', 2371 + i * 44).attr('width', 43).attr('height', 43)
      .attr('fill', grpFill[gr]).attr('stroke', '#111').attr('stroke-width', 3)
    txt(g, 850, 2393 + i * 44, gr, { size: 23, baseline: 'central' })
  })
}

// ---------------- I: cladogram ----------------
{
  const g = svg.append('g')
  const cx = 1366, cy = 2425
  const radii = [0, 50, 99, 149, 199, 249, 299]
  const ranks = ['r', 'k', 'p', 'c', 'o', 'f', 'g']
  const rows = new Map([['root', { id: 'root', parentId: null, name: 'Root', value: 0 }]])
  cladeLeaves.forEach((s, i) => {
    const parts = ('Bacteria|' + s).split('|')
    let parent = 'root'
    parts.forEach((p, d) => {
      const id = parent + '|' + p
      if (!rows.has(id)) rows.set(id, { id, parentId: parent, name: p, value: d === parts.length - 1 ? cladeLeafSize[i] : 0 })
      parent = id
    })
  })
  const root = d3.stratify()(Array.from(rows.values()))
  root.sum(d => d.value)
  const span = 350, offset = 7.6
  const leafStep = span / cladeLeaves.length
  d3.cluster().size([span, 1]).separation(() => 1)(root)
  root.each(n => { n.angle = n.x + offset; n.rad = radii[n.depth]; n.key = ranks[n.depth] + '__' + n.data.name })
  const polar = (a, r) => [cx + r * Math.cos(a * Math.PI / 180), cy + r * Math.sin(a * Math.PI / 180)]

  const marks = taxaLabels.map((s, i) => {
    const m = s.match(/^(\w):\s*(.+)$/)
    return { letter: m[1], key: m[2], group: taxaGroup[i] }
  })
  const byKey = new Map()
  root.each(n => byKey.set(n.key, n))
  const marked = marks.map(m => ({ ...m, node: byKey.get(m.key) })).filter(m => m.node)

  // highlighted sectors
  const arc = d3.arc()
  marked.slice().sort((a, b) => a.node.depth - b.node.depth).forEach(m => {
    const lv = m.node.leaves().map(l => l.angle)
    const a0 = d3.min(lv) - leafStep / 2, a1 = d3.max(lv) + leafStep / 2
    g.append('path').attr('transform', `translate(${cx},${cy})`)
      .attr('d', arc({ innerRadius: m.node.rad - 21, outerRadius: 340 + 12 * (6 - m.node.depth),
        startAngle: (a0 + 90) * Math.PI / 180, endAngle: (a1 + 90) * Math.PI / 180 }))
      .attr('fill', grpFill[m.group]).attr('fill-opacity', 0.42)
  })

  // links
  root.descendants().slice(1).forEach(c => {
    const p = c.parent
    const [x1, y1] = polar(c.angle, p.rad), [x2, y2] = polar(c.angle, c.rad)
    let d
    if (p.rad === 0) d = `M${x1},${y1}L${x2},${y2}`
    else {
      const [x0, y0] = polar(p.angle, p.rad)
      const sweep = c.angle > p.angle ? 1 : 0, large = Math.abs(c.angle - p.angle) > 180 ? 1 : 0
      d = `M${x0},${y0}A${p.rad},${p.rad} 0 ${large} ${sweep} ${x1},${y1}L${x2},${y2}`
    }
    g.append('path').attr('d', d).attr('fill', 'none').attr('stroke', '#808080').attr('stroke-width', 3.5)
  })

  // nodes
  const colorOf = new Map(marked.map(m => [m.node, grpFill[m.group]]))
  root.descendants().slice().reverse().forEach(n => {
    const [x, y] = polar(n.angle, n.rad)
    const tiny = n.value < 0.25
    const r = tiny ? 2.6 : Math.max(3.5, 4 * Math.pow(n.value, 0.25))
    g.append('circle').attr('cx', x).attr('cy', y).attr('r', r)
      .attr('fill', colorOf.get(n) || (tiny ? '#000' : '#fff'))
      .attr('stroke', '#000').attr('stroke-width', tiny ? 0 : 2)
  })
  marked.forEach(m => {
    const [x, y] = polar(m.node.angle + 2.5, m.node.rad + 20)
    txt(g, x, y, m.letter, { size: 17, weight: 'normal', anchor: 'middle', baseline: 'central', fill: '#333', rotate: m.node.angle + 90 })
  })

  // legends
  txt(g, 931, 2080, 'Groups', { size: 25 })
  groups.forEach((gr, i) => {
    g.append('rect').attr('x', 947).attr('y', 2104 + i * 31).attr('width', 12).attr('height', 12).attr('fill', grpFill[gr])
    txt(g, 976, 2110 + i * 31, gr, { size: 24, baseline: 'central' })
  })
  txt(g, 1741, 2071, 'Taxa', { size: 33, weight: 'normal' })
  taxaLabels.forEach((s, i) => {
    g.append('rect').attr('x', 1743).attr('y', 2096.3 + i * 34.1).attr('width', 30.6).attr('height', 31.5).attr('fill', grpFill[taxaGroup[i]])
    txt(g, 1793, 2112 + i * 34.1, s, { size: 24.5, italic: true, baseline: 'central' })
  })
}
</script>
</body>
</html>
